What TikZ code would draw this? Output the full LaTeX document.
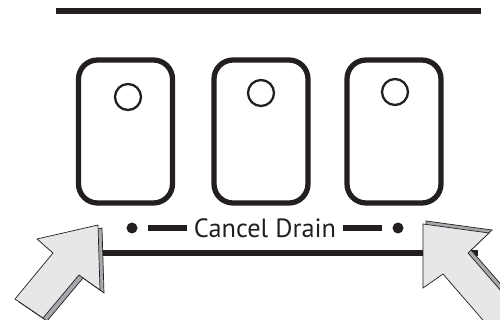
\documentclass[tikz,border=0pt]{standalone}
\usepackage{fontspec}
\setsansfont{PT Sans}
\definecolor{panelInk}{HTML}{231F20}
\definecolor{arrowFace}{HTML}{E6E7E8}
\definecolor{arrowSide}{HTML}{A7A9AC}

\begin{document}
\begin{tikzpicture}[x=0.02cm,y=-0.02cm,
  key/.style={draw=panelInk,line width=3pt,rounded corners=0.38cm,minimum width=1.88cm,minimum height=2.86cm,inner sep=0pt},
  led/.style={circle,draw=panelInk,line width=1.3pt,minimum size=0.52cm,inner sep=0pt},
  pip/.style={circle,fill=panelInk,minimum size=0.22cm,inner sep=0pt},
  rail/.style={draw=panelInk,line width=3.2pt},
  arrowbody/.style={fill=arrowFace,draw=panelInk,line width=0.4pt},
  arrowedge/.style={fill=arrowSide,draw=panelInk,line width=0.4pt}]
  \path[use as bounding box] (0,0) rectangle (500,320);
  \clip (0,0) rectangle (500,320);
  % top bezel
  \fill[panelInk] (56,8) rectangle (481,14);
  % the three keys
  \foreach \n/\kx/\lx/\ly in {1/125.5/128/97, 2/261/261/93, 3/394/395/92} {
    \node[key] (key\n) at (\kx,131.5) {};
    \node[led] (led\n) at (\lx,\ly) {};
  }
  % label with dots and dashes
  \node[font=\sffamily\fontsize{15}{15}\selectfont,text=panelInk,inner sep=0pt] (label) at (265,228) {Cancel Drain};
  \node[pip] (pipL) at (132,228) {};
  \node[pip] (pipR) at (398,228) {};
  \draw[rail,shorten <=0.21cm,shorten >=0.13cm] (pipL.east) -- (label.west);
  \draw[rail,shorten <=0.21cm,shorten >=0.13cm] (pipR.west) -- (label.east);
  \coordinate (railL) at (100,253);
  \coordinate (railR) at (478,253);
  \draw[rail] (railL) -- (railR);
  % left arrow
  \filldraw[arrowedge,shift={(4,3)}] (98,225) -- (100,290) -- (79,275) -- (43,318) -- (15,299) -- (53,253) -- (37,239) -- cycle;
  \filldraw[arrowbody] (98,225) -- (100,290) -- (79,275) -- (43,318) -- (15,299) -- (53,253) -- (37,239) -- cycle;
  % right arrow
  \filldraw[arrowedge,shift={(3,-3)}] (423,224) -- (489,233) -- (468,253) -- (515,307) -- (495,334) -- (443,274) -- (423,288) -- cycle;
  \filldraw[arrowbody] (423,224) -- (489,233) -- (468,253) -- (515,307) -- (495,334) -- (443,274) -- (423,288) -- cycle;
\end{tikzpicture}
\end{document}
